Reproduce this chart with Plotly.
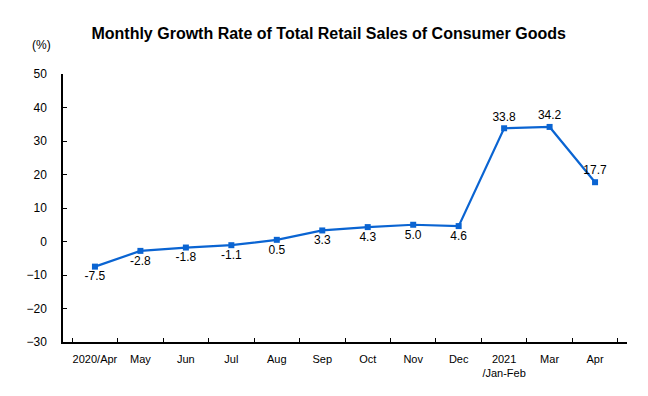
import plotly.graph_objects as go

categories = ["2020/Apr", "May", "Jun", "Jul", "Aug", "Sep", "Oct", "Nov", "Dec",
              "2021<br>/Jan-Feb", "Mar", "Apr"]
growth = [-7.5, -2.8, -1.8, -1.1, 0.5, 3.3, 4.3, 5.0, 4.6, 33.8, 34.2, 17.7]
label_pos = ["bottom center"] * 9 + ["top center"] * 3
y_ticks = [-30, -20, -10, 0, 10, 20, 30, 40, 50]

fig = go.Figure()
fig.add_trace(go.Scatter(
    x=categories, y=growth, mode="lines+markers+text",
    line=dict(color="#0A64D2", width=2.2),
    marker=dict(symbol="square", size=6, color="#0A64D2"),
    texttemplate="%{y:.1f}", textposition=label_pos,
    textfont=dict(family="Liberation Sans, Arial", size=12, color="#000000"),
    cliponaxis=False, showlegend=False,
))

fig.update_layout(
    width=648, height=396,
    margin=dict(l=55, r=29, t=66, b=62, autoexpand=False),
    paper_bgcolor="white", plot_bgcolor="white",
    title=dict(text="<b>Monthly Growth Rate of Total Retail Sales of Consumer Goods</b>",
               x=0.471, xanchor="center", y=0.937, yanchor="middle",
               xref="paper", yref="container", automargin=False,
               font=dict(family="Liberation Sans, Arial", size=16, color="#000000")),
    font=dict(family="Liberation Sans, Arial", color="#000000"),
)
fig.update_xaxes(
    type="category", showline=True, linecolor="#000000", linewidth=1.5,
    ticks="inside", tickson="boundaries", ticklen=4, tickcolor="#000000",
    showgrid=False, zeroline=False, tickangle=0, automargin=False,
    tickfont=dict(family="Liberation Sans Narrow, Liberation Sans, Arial", size=11),
    ticklabelstandoff=6,
)
fig.update_yaxes(
    range=[-30, 50], tickvals=y_ticks, showline=True, linecolor="#000000", linewidth=1.5,
    ticks="inside", ticklen=4, tickcolor="#000000", showgrid=False, zeroline=False,
    automargin=False,
    tickfont=dict(family="Liberation Sans, Arial", size=12), ticklabelstandoff=12,
)
fig.add_annotation(text="(%)", xref="paper", yref="paper", x=-0.039, y=1.108,
                   xanchor="center", yanchor="middle", showarrow=False,
                   font=dict(family="Liberation Sans, Arial", size=12))

fig.write_html("out.html")
